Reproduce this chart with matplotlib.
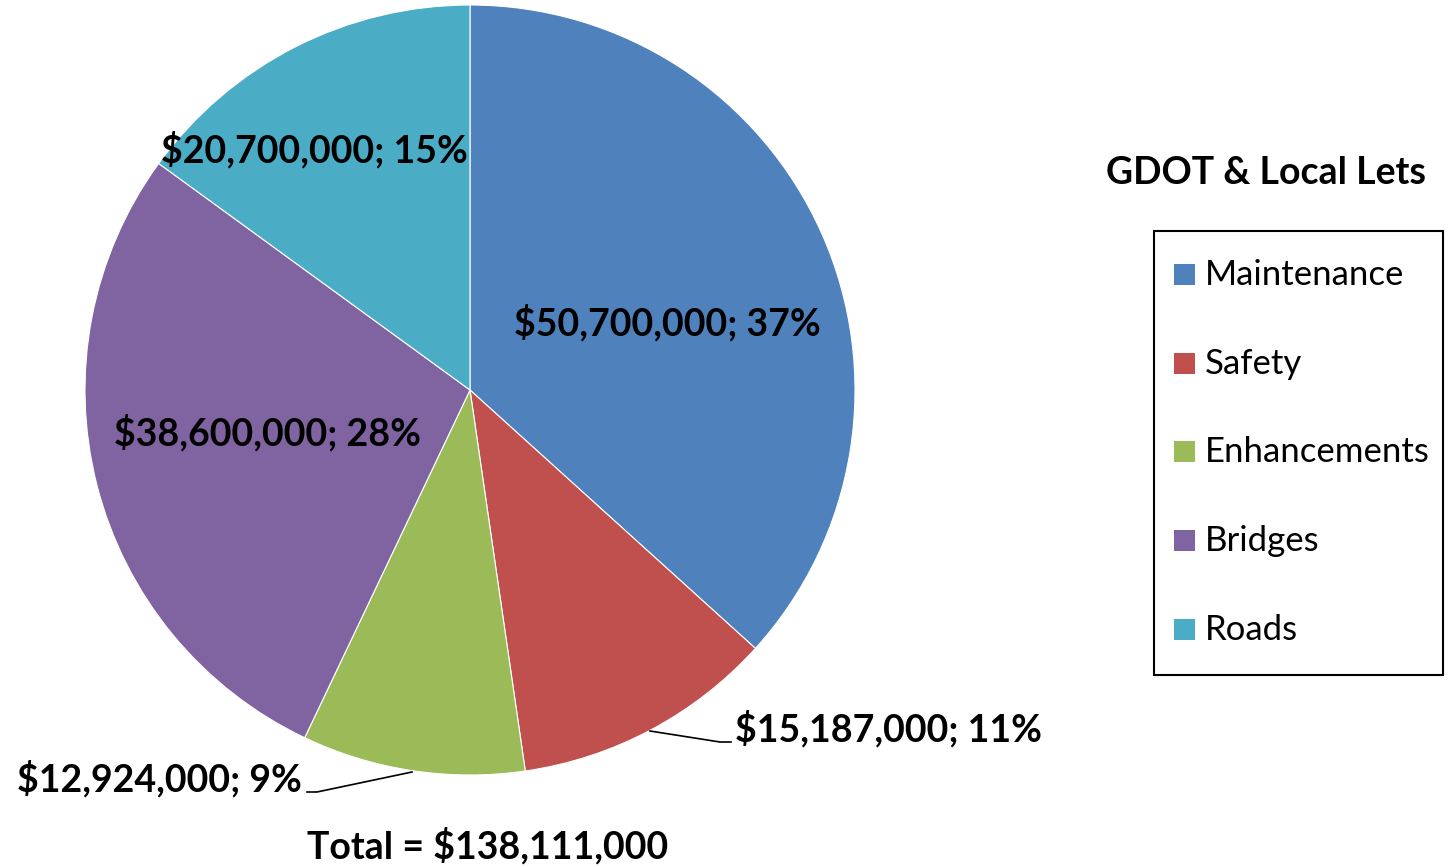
import matplotlib
matplotlib.use("Agg")
import matplotlib.pyplot as plt
from matplotlib.patches import Rectangle

plt.rcParams['font.family'] = ['Lato', 'DejaVu Sans']

# data
categories = ['Maintenance', 'Safety', 'Enhancements', 'Bridges', 'Roads']
amounts = [50700000, 15187000, 12924000, 38600000, 20700000]
percents = [37, 11, 9, 28, 15]
colors = ['#4F81BD', '#C0504D', '#9BBB59', '#8064A2', '#4BACC6']
legend_title = 'GDOT & Local Lets'
total_text = 'Total = $138,111,000'

W, H = 1451, 867
fig = plt.figure(figsize=(W / 100, H / 100), dpi=100)

# pie centre and radius in pixels
cx, cy, R = 470, 390, 385
ax = fig.add_axes([(cx - R) / W, (H - cy - R) / H, 2 * R / W, 2 * R / H])

wedges, _ = ax.pie(amounts, colors=colors, startangle=90, counterclock=False,
                   radius=1, wedgeprops=dict(edgecolor='white', linewidth=0.8))
ax.set_xlim(-1, 1)
ax.set_ylim(-1, 1)
ax.set_aspect('equal')
ax.axis('off')


def px(x, y):
    # pixel position -> data coords of pie axes
    return (x - cx) / R, (cy - y) / R


LBL = 27
labels = ['${:,}; {}%'.format(a, p) for a, p in zip(amounts, percents)]
label_pos = [(667, 323), (735, 729), (302, 779), (267, 433), (314, 150)]
label_ha = ['center', 'left', 'right', 'center', 'center']
for lab, pos, ha in zip(labels, label_pos, label_ha):
    x, y = px(*pos)
    ax.text(x, y, lab, ha=ha, va='center', fontsize=LBL, fontweight='bold',
            clip_on=False)

# leader lines for the small slices
leaders = [[(650, 731), (720, 742), (731, 742)],
           [(412, 772), (317, 792), (307, 792)]]
for pts in leaders:
    xs, ys = zip(*[px(*p) for p in pts])
    ax.plot(xs, ys, color='black', lw=1.2, clip_on=False)

fig.text(488 / W, 1 - 846 / H, total_text, ha='center', va='center',
         fontsize=LBL, fontweight='bold')

# legend
fig.text(1266 / W, 1 - 173 / H, legend_title, ha='center', va='center',
         fontsize=LBL, fontweight='bold')
fig.add_artist(Rectangle((1154 / W, 1 - 675 / H), 289 / W, 444 / H,
                         transform=fig.transFigure, fill=False,
                         edgecolor='black', lw=1.5))
for i, (cat, col) in enumerate(zip(categories, colors)):
    yy = 275 + i * 88.7
    fig.add_artist(Rectangle((1174 / W, 1 - (yy + 10) / H), 21 / W, 21 / H,
                             transform=fig.transFigure, facecolor=col,
                             edgecolor='none'))
    fig.text(1205 / W, 1 - yy / H, cat, ha='left', va='center', fontsize=25)

fig.savefig('out.png', dpi=100)
